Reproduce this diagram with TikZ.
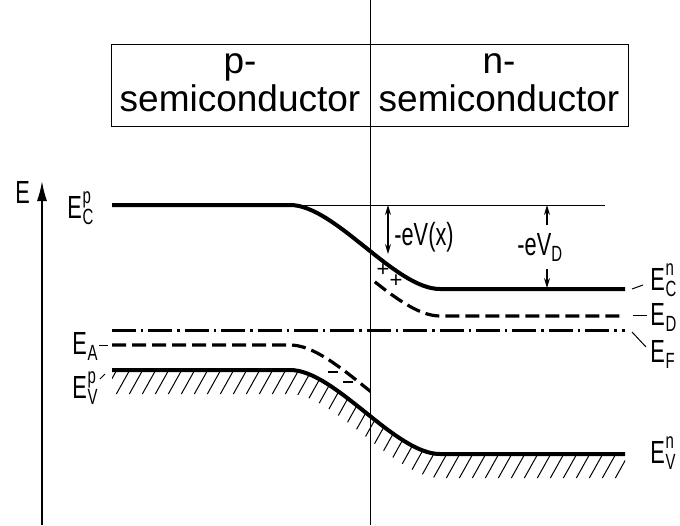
\documentclass[tikz,border=0pt]{standalone}
\usepackage{fontspec}
\setmainfont{Liberation Sans}
\newfontfamily\lblfont[FakeStretch=0.68]{Liberation Sans}
\usetikzlibrary{arrows.meta,positioning}

% level label: E with stacked sub- and superscript
\newcommand{\lvlscript}{\fontsize{11}{11}\selectfont}
\newcommand{\lev}[2]{E\kern0.4pt\rlap{\raisebox{7.5pt}{\lvlscript #2}}\raisebox{-3pt}{\lvlscript #1}}

\begin{document}
\begin{tikzpicture}[x=0.5pt,y=-0.5pt,
  band/.style={line width=2pt},
  dashband/.style={line width=1.6pt, dash pattern=on 7pt off 3pt},
  fermi/.style={line width=1.5pt, dash pattern=on 12pt off 2.5pt on 1.2pt off 2.5pt},
  guide/.style={line width=0.5pt},
  hatch/.style={line width=0.5pt},
  lbl/.style={font=\lblfont\fontsize{16}{16}\selectfont, inner sep=0pt},
  boxtext/.style={font=\fontsize{18.5}{19}\selectfont, align=center, inner sep=0pt},
  arr/.style={-{Stealth[length=5pt,width=3pt]}, line width=0.6pt}
]
  \useasboundingbox (0,0) rectangle (680,525);

  % header box with the two sides
  \draw[guide] (111,44) rectangle (628,126);
  \node[boxtext] (pside) at (240,83) {p-\\semiconductor};
  \node[boxtext] (nside) at (499,83) {n-\\semiconductor};

  % junction plane
  \draw[guide] (370,0) -- (370,525);

  % energy axis
  \coordinate (axbot) at (42,525);
  \coordinate (axtop) at (42,181);
  \draw[-{Latex[length=10pt,width=5pt]}, line width=0.9pt] (axbot) -- (axtop);
  \node[lbl, anchor=base west] (elab) at (15,203) {E};

  % conduction band edge
  \draw[band] (112,205) -- (290,205) .. controls (335,205) and (395,289) .. (440,289) -- (625,289);
  \draw[guide] (290,205) -- (605,205);

  % donor level (n side only)
  \begin{scope}
    \clip (370,0) rectangle (680,525);
    \draw[dashband] (290,232) .. controls (335,232) and (395,316) .. (440,316) -- (625,316);
  \end{scope}

  % Fermi level
  \draw[fermi] (112,330) -- (625,330);

  % acceptor level (p side only)
  \begin{scope}
    \clip (0,0) rectangle (370,525);
    \draw[dashband] (112,345) -- (290,345) .. controls (335,345) and (395,429) .. (440,429);
  \end{scope}

  % valence band edge and hatching
  \begin{scope}
    \clip (112,370) -- (290,370) .. controls (335,370) and (395,454) .. (440,454) -- (625,454)
      -- (625,478) -- (440,478) .. controls (395,478) and (335,394) .. (290,394) -- (112,394) -- cycle;
    \foreach \x in {40,53,...,660}
      \draw[hatch] (\x,484) -- ++(66,-118);
  \end{scope}
  \draw[band] (112,370) -- (290,370) .. controls (335,370) and (395,454) .. (440,454) -- (625,454);

  % ionised donors and acceptors
  \node[font=\fontsize{11}{11}\selectfont, inner sep=0pt] (don1) at (383,270) {+};
  \node[font=\fontsize{11}{11}\selectfont, inner sep=0pt] (don2) at (396,281) {+};
  \draw[line width=1.1pt] (328,372) -- (338,372);
  \draw[line width=1.1pt] (343,382) -- (353,382);

  % potential arrows
  \coordinate (vxtop) at (388,205);
  \coordinate (vxbot) at (388,254);
  \draw[arr, {Stealth[length=5pt,width=3pt]}-{Stealth[length=5pt,width=3pt]}] (vxtop) -- (vxbot);
  \node[lbl, anchor=base west] (vx) at (394,245) {-eV(x)};

  \coordinate (vdtop) at (547,205);
  \coordinate (vdbot) at (547,288);
  \node[lbl, anchor=base west, inner ysep=4pt] (vd) at (517,255) {-eV\raisebox{-3pt}{\lvlscript D}};
  \draw[arr] (vd.north -| vdtop) -- (vdtop);
  \draw[arr] (vd.south -| vdbot) -- (vdbot);

  % right labels
  \node[lbl, anchor=base west] (ecn) at (650,290) {\lev{C}{n}};
  \node[lbl, anchor=base west] (edn) at (650,325) {\lev{D}{}};
  \node[lbl, anchor=base west] (efn) at (650,362) {\lev{F}{}};
  \node[lbl, anchor=base west] (evn) at (650,463) {\lev{V}{n}};
  \draw[guide] (632,289) -- (643,285);
  \draw[guide] (633,315) -- (647,315);
  \draw[guide] (632,332) -- (646,347);

  % left labels
  \node[lbl, anchor=base west] (ecp) at (67,218) {\lev{C}{p}};
  \node[lbl, anchor=base west] (eap) at (72,354) {\lev{A}{}};
  \node[lbl, anchor=base west] (evp) at (72,398) {\lev{V}{p}};
  \draw[guide] (99,345) -- (108,345);
  \draw[guide] (100,379) -- (105,374);
\end{tikzpicture}
\end{document}
